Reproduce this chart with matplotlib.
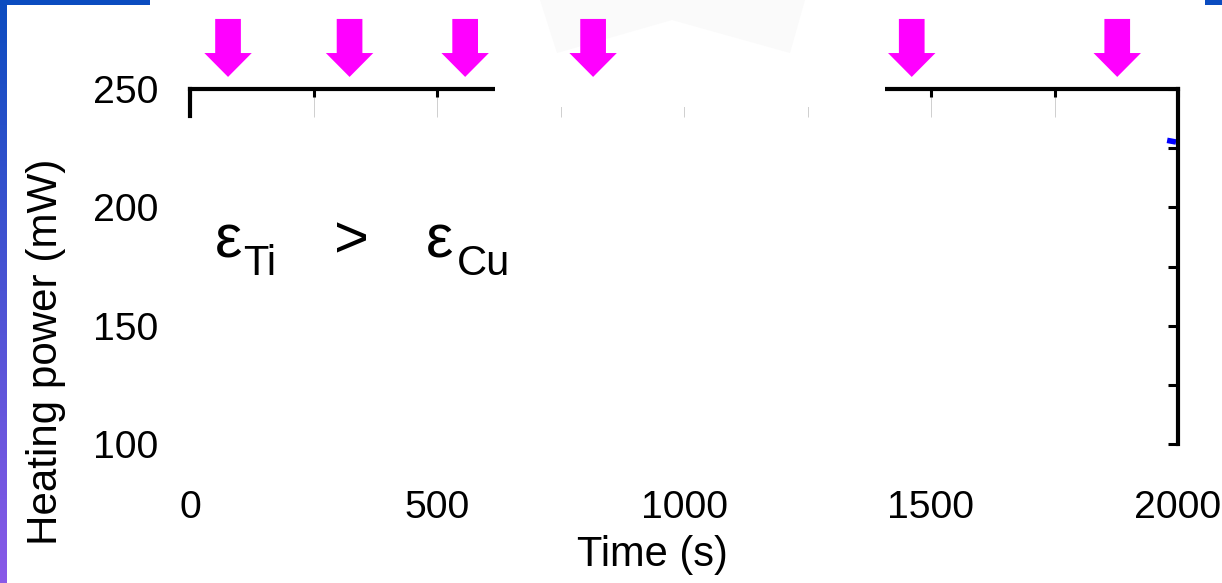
import numpy as np
import matplotlib
matplotlib.use("Agg")
import matplotlib.pyplot as plt
from matplotlib.patches import FancyArrow, Rectangle, Polygon
from matplotlib.colors import LinearSegmentedColormap
from matplotlib.ticker import MultipleLocator, FuncFormatter

plt.rcParams['font.family'] = ['Liberation Sans', 'DejaVu Sans']

# data
arrow_times = [77, 323, 557, 816, 1461, 1877]   # s, sample changes
trace_time = [1978, 1996]                        # visible end of the power trace
trace_power = [228.3, 227.6]                     # mW
x_ticks = [0, 500, 1000, 1500, 2000]
y_ticks = [100, 150, 200, 250]

W, H = 1222, 583
fig = plt.figure(figsize=(W / 100, H / 100), dpi=100)
ax = fig.add_axes([190 / W, (H - 444) / H, 988 / W, 355 / H])
ax.set_xlim(0, 2000)
ax.set_ylim(100, 250)

# spines
for side in ['top', 'right', 'left']:
    ax.spines[side].set_linewidth(3)
ax.spines['bottom'].set_visible(False)
ax.spines['left'].set_bounds(238.5, 250)

# x axis: labels at the bottom, ticks on top only
ax.xaxis.set_major_locator(MultipleLocator(250))
ax.xaxis.set_minor_locator(MultipleLocator(250))
ax.xaxis.remove_overlapping_locs = False
ax.xaxis.set_major_formatter(FuncFormatter(lambda v, p: f"{v:.0f}" if v in x_ticks else ""))
ax.tick_params(axis='x', which='major', bottom=False, top=True, direction='in',
               length=20, width=0.7, color='#cfcfcf', labelsize=28.3, pad=33)
ax.tick_params(axis='x', which='minor', bottom=False, top=True, direction='in',
               length=6, width=2.2, color='black')

# y axis: labels on the left, ticks on the right
ax.yaxis.set_major_locator(MultipleLocator(25))
ax.yaxis.set_major_formatter(FuncFormatter(lambda v, p: f"{v:.0f}" if v in y_ticks else ""))
ax.tick_params(axis='y', left=False, right=True, direction='in', length=7,
               width=2.2, labelsize=28.3, pad=23)

ax.set_xlabel("Time (s)", fontsize=30)
ax.xaxis.set_label_coords(0.4676, -0.255)
ax.set_ylabel("Heating power (mW)", fontsize=30.3)
ax.yaxis.set_label_coords(-0.126, 0.259)

ax.plot(trace_time, trace_power, color='#0000ff', lw=4, clip_on=False,
        solid_capstyle='butt')

# magenta arrows above the plot
for t in arrow_times:
    ax.add_patch(FancyArrow(t, 279.6, 0, -24.5, width=52, head_width=96,
                            head_length=10.1, length_includes_head=True,
                            color='#ff00ff', lw=0, clip_on=False))

# emissivity annotation
def px(x, y):
    return x / W, 1 - y / H

fig.text(*px(215, 257), "ε", fontsize=44, va='baseline')
fig.text(*px(243, 275), "Ti", fontsize=30, va='baseline')
fig.text(*px(334, 257), ">", fontsize=43, va='baseline')
fig.text(*px(426, 257), "ε", fontsize=44, va='baseline')
fig.text(*px(457, 275), "Cu", fontsize=30, va='baseline')

# slide decorations
fig.add_artist(Rectangle(px(495, 107), 390 / W, 23 / H, transform=fig.transFigure,
                         facecolor='white', edgecolor='none', zorder=1))
fig.add_artist(Polygon([px(540, 0), px(805, 0), px(790, 53), px(672, 20), px(557, 53)],
                       closed=True, transform=fig.transFigure, facecolor='#fafafa',
                       edgecolor='none', zorder=-1))
fig.add_artist(Rectangle(px(0, 5), 150 / W, 5 / H, transform=fig.transFigure,
                         facecolor='#0b4cc0', edgecolor='none'))
fig.add_artist(Rectangle(px(1205, 5), 17 / W, 5 / H, transform=fig.transFigure,
                         facecolor='#0b4cc0', edgecolor='none'))
strip = fig.add_axes([0, 0, 7 / W, 1])
cmap = LinearSegmentedColormap.from_list('slide', ['#0b4cc0', '#8a5ae8'])
strip.imshow(np.linspace(0, 1, 256).reshape(-1, 1), aspect='auto', cmap=cmap)
strip.axis('off')

fig.savefig("out.png", dpi=100)
